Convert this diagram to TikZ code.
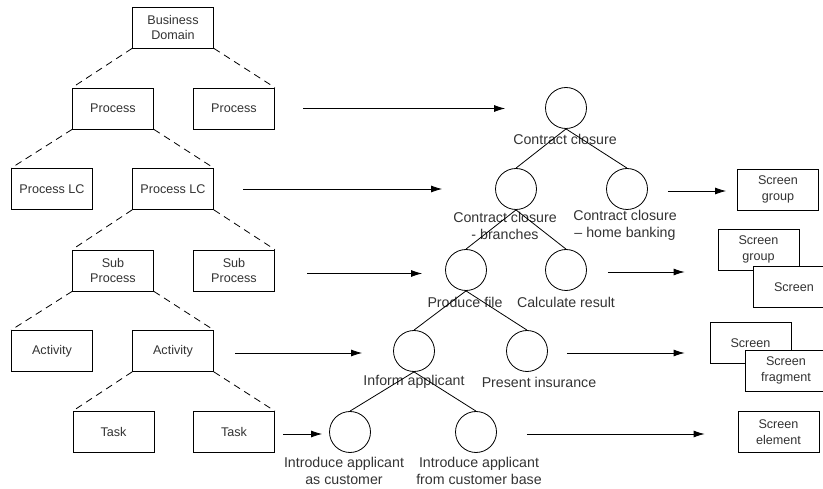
\documentclass[tikz,border=0pt]{standalone}
\usepackage{fontspec}
\setmainfont{Liberation Sans}
\usetikzlibrary{arrows.meta}
\begin{document}
\begin{tikzpicture}[x=1pt, y=-1pt, line width=0.8pt,
    box/.style={draw, fill=white, minimum width=81pt, minimum height=41pt, inner sep=1pt, align=center, text=black!80, font=\fontsize{12.6}{15.5}\selectfont},
    circ/.style={draw, circle, minimum size=41pt, inner sep=0pt},
    lbl/.style={inner sep=0pt, align=center, text=black!80, font=\fontsize{14.2}{17}\selectfont},
    link/.style={dash pattern=on 7pt off 5pt},
    arr/.style={-{Latex[length=11pt, width=7pt]}}]
      \clip (0, 0) rectangle (823, 489);
      \node [box] (bd) at (173, 27.5) {Business\\Domain};
      \node [box] (p1) at (113, 108.5) {Process};
      \node [box] (p2) at (234, 108.5) {Process};
      \node [box] (lc1) at (52, 189) {Process LC};
      \node [box] (lc2) at (173, 189) {Process LC};
      \node [box] (sp1) at (113, 270.5) {Sub\\Process};
      \node [box] (sp2) at (234, 270.5) {Sub\\Process};
      \node [box] (a1) at (52, 351) {Activity};
      \node [box] (a2) at (173, 351) {Activity};
      \node [box] (t1) at (113.5, 432) {Task};
      \node [box] (t2) at (234, 432) {Task};
      \draw [link] (bd.south west) -- (p1.north west);
      \draw [link] (bd.south east) -- (p2.north east);
      \draw [link] (p1.south west) -- (lc1.north west);
      \draw [link] (p1.south east) -- (lc2.north east);
      \draw [link] (lc2.south west) -- (sp1.north west);
      \draw [link] (lc2.south east) -- (sp2.north east);
      \draw [link] (sp1.south west) -- (a1.north west);
      \draw [link] (sp1.south east) -- (a2.north east);
      \draw [link] (a2.south west) -- (t1.north west);
      \draw [link] (a2.south east) -- (t2.north east);

      \node [circ] (cc) at (566, 108) {};
      \node [circ] (ccb) at (516, 189) {};
      \node [circ] (cchb) at (627, 189) {};
      \node [circ] (pf) at (466, 270) {};
      \node [circ] (cr) at (566, 270) {};
      \node [circ] (ia) at (414, 351) {};
      \node [circ] (pi) at (527, 351) {};
      \node [circ] (iac) at (350, 432) {};
      \node [circ] (iab) at (476, 432) {};
      \node [lbl] (cc-l) at (565, 139) {Contract closure};
      \node [lbl] (ccb-l) at (505, 225.5) {Contract closure\\- branches};
      \node [lbl] (cchb-l) at (625, 225.5) {Contract closure\\– home banking};
      \node [lbl] (pf-l) at (465, 302) {Produce file};
      \node [lbl] (cr-l) at (566, 302) {Calculate result};
      \node [lbl] (ia-l) at (414, 382) {Inform applicant};
      \node [lbl] (pi-l) at (539, 382) {Present insurance};
      \node [lbl] (iac-l) at (344, 471) {Introduce applicant\\as customer};
      \node [lbl] (iab-l) at (479, 471) {Introduce applicant\\from customer base};
      \draw (cc.south) -- (ccb.north);
      \draw (cc.south) -- (cchb.north);
      \draw (ccb.south) -- (pf.north);
      \draw (ccb.south) -- (cr.north);
      \draw (pf.south) -- (ia.north);
      \draw (pf.south) -- (pi.north);
      \draw (ia.south) -- (iac.north);
      \draw (ia.south) -- (iab.north);

      \node [box] (sg1) at (778, 189.5) {Screen\\group};
      \node [box] (sg2) at (758.5, 249.5) {Screen\\group};
      \node [box] (sc1) at (794, 287) {Screen};
      \node [box] (sc2) at (750.5, 343) {Screen};
      \node [box] (sf) at (786, 370.5) {Screen\\fragment};
      \node [box] (se) at (778.5, 432) {Screen\\element};

      \draw [arr] ([xshift=28.5]p2.east) -- ([xshift=-40]p2.east -| cc.west);
      \draw [arr] ([xshift=29.5]lc2.east) -- ([xshift=-53]lc2.east -| ccb.west);
      \draw [arr] ([xshift=32.5, yshift=-3]sp2.east) -- ([xshift=-23, yshift=-3]sp2.east -| pf.west);
      \draw [arr] ([xshift=21.5, yshift=-2]a2.east) -- ([xshift=-31, yshift=-2]a2.east -| ia.west);
      \draw [arr] ([xshift=8.5, yshift=-2]t2.east) -- ([xshift=-7, yshift=-2]t2.east -| iac.west);
      \draw [arr] ([xshift=20, yshift=-2]cchb.east) -- ([xshift=-11, yshift=-2]cchb.east -| sg1.west);
      \draw [arr] ([xshift=21, yshift=-2]cr.east) -- ([xshift=-33, yshift=-2]cr.east -| sg2.west);
      \draw [arr] ([xshift=19, yshift=-2]pi.east) -- ([xshift=-25, yshift=-2]pi.east -| sc2.west);
      \draw [arr] ([xshift=30, yshift=-2]iab.east) -- ([xshift=-33, yshift=-2]iab.east -| se.west);
    \end{tikzpicture}
\end{document}
